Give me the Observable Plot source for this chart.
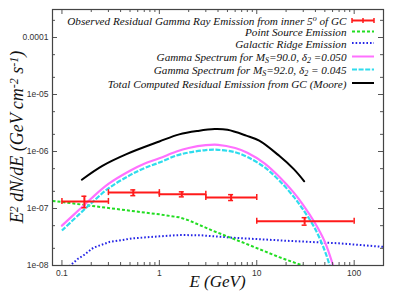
<!DOCTYPE html>
<html><head><meta charset="utf-8">
<script src="https://cdn.jsdelivr.net/npm/d3@7"></script>
<script src="https://cdn.jsdelivr.net/npm/@observablehq/plot@0.6"></script>
<style>
html,body{margin:0;padding:0;background:#fff;}
#chart{width:402px;height:291px;overflow:hidden;}
</style></head><body><div id="chart"></div>
<script>
// Observed residual emission (error bars)
const obsE = [0.17, 0.54, 1.7, 5.45, 31];
const obsELow = [0.1, 0.3, 1, 3, 10];
const obsEHigh = [0.3, 1, 3, 10, 100];
const obsFlux = [1.33e-7, 1.9e-7, 1.77e-7, 1.56e-7, 6.0e-8];
const obsFluxLow = [1.03e-7, 1.68e-7, 1.6e-7, 1.38e-7, 5.1e-8];
const obsFluxHigh = [1.64e-7, 2.12e-7, 1.96e-7, 1.75e-7, 6.9e-8];

// Point source emission
const psE = [0.08, 0.1, 0.3, 1, 1.6, 2.0, 3.5, 7.8, 17, 29.5, 40];
const psFlux = [1.36e-7, 1.3e-7, 1.02e-7, 7.9e-8, 7.0e-8, 6.2e-8, 4.1e-8, 2.4e-8, 1.4e-8, 1.0e-8, 8.2e-9];

// Galactic ridge emission
const grE = [0.11, 0.122, 0.145, 0.166, 0.21, 0.31, 0.54, 1, 1.6, 2.6, 5.7, 20, 70, 200];
const grFlux = [9e-9, 1.0e-8, 1.3e-8, 1.5e-8, 2.05e-8, 2.6e-8, 3.0e-8, 3.25e-8, 3.42e-8, 3.4e-8, 3.07e-8, 2.72e-8, 2.45e-8, 2.12e-8];

// Gamma spectrum Ms=90.0, delta2=0.050
const m90E = [0.1, 0.15, 0.2, 0.3, 0.5, 0.7, 1, 1.5, 2, 3, 4, 6, 8, 12, 17, 24, 30, 40, 50, 60, 63];
const m90Flux = [5.0e-8, 9.5e-8, 1.5e-7, 2.7e-7, 4.6e-7, 6.1e-7, 7.6e-7, 1.0e-6, 1.15e-6, 1.29e-6, 1.31e-6, 1.15e-6, 9.5e-7, 6.2e-7, 3.6e-7, 1.9e-7, 1.15e-7, 5.4e-8, 2.6e-8, 1.07e-8, 8e-9];

// Gamma spectrum Ms=92.0, delta2=0.045
const m92E = [0.1, 0.15, 0.2, 0.3, 0.5, 0.7, 1, 1.5, 2, 3, 4, 6, 8, 12, 17, 24, 30, 40, 50, 56, 59];
const m92Flux = [4.1e-8, 7.9e-8, 1.24e-7, 2.25e-7, 3.85e-7, 5.1e-7, 6.4e-7, 8.5e-7, 9.6e-7, 1.06e-6, 1.07e-6, 9.7e-7, 8.0e-7, 5.3e-7, 3.1e-7, 1.6e-7, 9.5e-8, 4.3e-8, 1.8e-8, 1.0e-8, 7e-9];

// Total computed residual emission (Moore)
const totE = [0.16, 0.26, 0.46, 1, 1.6, 2.5, 3.7, 5, 7.8, 10.6, 17, 24, 30.7];
const totFlux = [3.2e-7, 5.6e-7, 9.0e-7, 1.5e-6, 2.0e-6, 2.3e-6, 2.47e-6, 2.4e-6, 1.9e-6, 1.55e-6, 8.4e-7, 4.9e-7, 3.0e-7];

// Axes
const xTicks = [0.1, 1, 10, 100];
const xTickLabels = ["0.1", "1", "10", "100"];
const yTicks = [1e-8, 1e-7, 1e-6, 1e-5, 1e-4];
const yTickLabels = ["1e-08", "1e-07", "1e-06", "1e-05", "0.0001"];
const xMinor = [0.2,0.3,0.4,0.5,0.6,0.7,0.8,0.9, 2,3,4,5,6,7,8,9, 20,30,40,50,60,70,80,90];
const yMinor = [2e-8,5e-8,2e-7,5e-7,2e-6,5e-6,2e-5,5e-5,2e-4];

const W = 402, H = 291, mL = 52, mR = 19, mT = 9, mB = 26;
const iW = W - mL - mR, iH = H - mT - mB;

const zip = (xs, ys) => xs.map((x, i) => ({x, y: ys[i]}));
const obs = obsE.map((e, i) => ({e, lo: obsELow[i], hi: obsEHigh[i], f: obsFlux[i], flo: obsFluxLow[i], fhi: obsFluxHigh[i]}));

const C = {red: "#ff1a1a", green: "#22dd22", blue: "#2424e6", magenta: "#ff70ff", cyan: "#2fdced", black: "#000"};
const D = {green: "3,2", blue: "1.6,2", cyan: "5,1.6"};
const tickCol = "#555";

const chart = Plot.plot({
  width: W, height: H, marginLeft: mL, marginRight: mR, marginTop: mT, marginBottom: mB,
  x: {type: "log", domain: [0.08, 200]},
  y: {type: "log", domain: [1e-8, 3.1e-4]},
  style: {fontFamily: "'Liberation Sans', Arial, sans-serif", fontSize: "8.5px", color: "#333", background: "white"},
  marks: [
    Plot.line(zip(grE, grFlux), {x: "x", y: "y", stroke: C.blue, strokeWidth: 2, strokeDasharray: D.blue, strokeLinecap: "butt", clip: true}),
    Plot.line(zip(psE, psFlux), {x: "x", y: "y", stroke: C.green, strokeWidth: 2, strokeDasharray: D.green, strokeLinecap: "butt", clip: true}),
    Plot.line(zip(m90E, m90Flux), {x: "x", y: "y", stroke: C.magenta, strokeWidth: 2.2, curve: "catmull-rom", clip: true}),
    Plot.line(zip(m92E, m92Flux), {x: "x", y: "y", stroke: C.cyan, strokeWidth: 2.2, strokeDasharray: D.cyan, strokeLinecap: "butt", curve: "catmull-rom", clip: true}),
    Plot.line(zip(totE, totFlux), {x: "x", y: "y", stroke: C.black, strokeWidth: 2, curve: "catmull-rom", clip: true}),
    // error bars
    Plot.ruleY(obs, {x1: "lo", x2: "hi", y: "f", stroke: C.red, strokeWidth: 2}),
    Plot.ruleX(obs, {x: "e", y1: "flo", y2: "fhi", stroke: C.red, strokeWidth: 2}),
    Plot.ruleX(obs, {x: "lo", y1: "f", y2: "f", insetTop: -3, insetBottom: -3, stroke: C.red, strokeWidth: 1.5}),
    Plot.ruleX(obs, {x: "hi", y1: "f", y2: "f", insetTop: -3, insetBottom: -3, stroke: C.red, strokeWidth: 1.5}),
    Plot.ruleY(obs, {y: "flo", x1: "e", x2: "e", insetLeft: -2.5, insetRight: -2.5, stroke: C.red, strokeWidth: 1.5}),
    Plot.ruleY(obs, {y: "fhi", x1: "e", x2: "e", insetLeft: -2.5, insetRight: -2.5, stroke: C.red, strokeWidth: 1.5}),
    // frame ticks (inward, mirrored)
    Plot.tickX(xTicks, {x: d => d, insetTop: iH - 5, stroke: tickCol}),
    Plot.tickX(xTicks, {x: d => d, insetBottom: iH - 5, stroke: tickCol}),
    Plot.tickX(xMinor, {x: d => d, insetTop: iH - 3, stroke: tickCol}),
    Plot.tickX(xMinor, {x: d => d, insetBottom: iH - 3, stroke: tickCol}),
    Plot.tickY(yTicks, {y: d => d, insetRight: iW - 5, stroke: tickCol}),
    Plot.tickY(yTicks, {y: d => d, insetLeft: iW - 5, stroke: tickCol}),
    Plot.tickY(yMinor, {y: d => d, insetRight: iW - 3, stroke: tickCol}),
    Plot.tickY(yMinor, {y: d => d, insetLeft: iW - 3, stroke: tickCol}),
    Plot.axisX({ticks: xTicks, tickFormat: d => xTickLabels[xTicks.indexOf(d)], tickSize: 0, tickPadding: 4, label: null}),
    Plot.axisY({ticks: yTicks, tickFormat: d => yTickLabels[yTicks.indexOf(d)], tickSize: 0, tickPadding: 4, label: null}),
    Plot.frame({stroke: "#444", strokeWidth: 1.2})
  ]
});
document.getElementById("chart").appendChild(chart);

// Titles and legend
const svg = d3.select(chart);
const serif = "'Liberation Serif', 'Times New Roman', serif";

function rich(sel, parts, subSize) {
  parts.forEach(([t, mode]) => {
    const ts = sel.append("tspan").text(t);
    if (mode === "sub") ts.attr("baseline-shift", "-25%").attr("font-size", subSize);
    if (mode === "sup") ts.attr("baseline-shift", "45%").attr("font-size", subSize);
  });
}

// X label
svg.append("text").attr("x", mL + iW / 2).attr("y", 286.5).attr("text-anchor", "middle")
  .attr("font-family", serif).attr("font-style", "italic").attr("font-size", 17).attr("fill", "#111")
  .text("E (GeV)");

// Y label
const yl = svg.append("text").attr("transform", `translate(23,137) rotate(-90)`).attr("text-anchor", "middle")
  .attr("font-family", serif).attr("font-style", "italic").attr("font-size", 18).attr("fill", "#111");
rich(yl, [["E", null], ["2", "sup"], [" dN/dE (GeV cm", null], ["-2", "sup"], [" s", null], ["-1", "sup"], [")", null]], 12);

// Legend
const legend = [
  {parts: [["Observed Residual Gamma Ray Emission from inner 5", null], ["o", "sup"], [" of GC", null]], color: C.red, dash: null, err: true, base: 25},
  {parts: [["Point Source Emission", null]], color: C.green, dash: D.green, base: 36},
  {parts: [["Galactic Ridge Emission", null]], color: C.blue, dash: D.blue, base: 47.5},
  {parts: [["Gamma Spectrum for M", null], ["S", "sub"], ["=90.0, ", null], ["δ", null], ["2", "sub"], [" =0.050", null]], color: C.magenta, dash: null, base: 61},
  {parts: [["Gamma Spectrum for M", null], ["S", "sub"], ["=92.0, ", null], ["δ", null], ["2", "sub"], [" = 0.045", null]], color: C.cyan, dash: D.cyan, base: 74},
  {parts: [["Total Computed Residual Emission from GC (Moore)", null]], color: C.black, dash: null, base: 87.5}
];
const lg = svg.append("g");
legend.forEach(it => {
  const t = lg.append("text").attr("x", 346.5).attr("y", it.base).attr("text-anchor", "end")
    .attr("font-family", serif).attr("font-style", "italic").attr("font-size", 11.2).attr("fill", "#111");
  rich(t, it.parts, 8);
  const ly = it.base - 4.5;
  const ln = lg.append("line").attr("x1", 352).attr("x2", 374).attr("y1", ly).attr("y2", ly)
    .attr("stroke", it.color).attr("stroke-width", 2);
  if (it.dash) ln.attr("stroke-dasharray", it.dash);
  if (it.err) {
    [352, 363, 374].forEach(x => lg.append("line").attr("x1", x).attr("x2", x).attr("y1", ly - 2.5).attr("y2", ly + 2.5)
      .attr("stroke", it.color).attr("stroke-width", 1.5));
  }
});
</script></body></html>
